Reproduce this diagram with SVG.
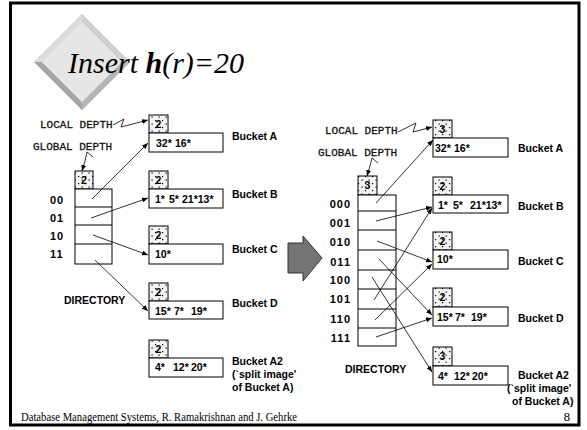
<svg xmlns="http://www.w3.org/2000/svg" width="587" height="430" viewBox="0 0 587 430">
<defs>
<pattern id="dots" width="7" height="7" patternUnits="userSpaceOnUse">
<rect width="7" height="7" fill="#f4f4f4"/>
<rect x="1" y="1" width="1.2" height="1.2" fill="#000"/>
<rect x="4.5" y="4.5" width="1.2" height="1.2" fill="#000"/>
</pattern>
<marker id="ah" viewBox="0 0 10 10" refX="10" refY="5" markerWidth="6" markerHeight="5" orient="auto" markerUnits="userSpaceOnUse" preserveAspectRatio="none">
<path d="M0,0 L10,5 L0,10 Z" fill="#000"/>
</marker>
<style>
.frame{fill:#fff;stroke:#000;stroke-width:3}
.ld{fill:url(#dots);stroke:#000;stroke-width:1}
.bk{fill:#fff;stroke:#000;stroke-width:1}
.ldt{font-family:"Liberation Sans",Arial,sans-serif;font-weight:bold;font-size:10.5px;text-anchor:middle}
.t{font-family:"Liberation Sans",Arial,sans-serif;font-weight:bold;font-size:10.5px}
.lab{font-family:"Liberation Sans",Arial,sans-serif;font-weight:bold;font-size:10.5px}
.num{font-family:"Liberation Sans",Arial,sans-serif;font-weight:bold;font-size:11px;letter-spacing:1px}
.mono{font-family:"Liberation Mono","Courier New",monospace;font-size:11px;fill:#111;stroke:#111;stroke-width:0.3}
.con{fill:none;stroke:#000;stroke-width:0.8;marker-end:url(#ah)}
.zz{fill:none;stroke:#000;stroke-width:0.8;marker-end:url(#ah)}
.foot{font-family:"Liberation Serif","Times New Roman",serif;font-size:12.5px}
</style>
</defs>
<rect class="frame" x="10.5" y="3" width="568.5" height="422"/>

<g id="title">
<polygon points="82,14 130,62 82,110 34,62" fill="#c8c8c8"/>
<polygon points="82,14 34,62 42,62 82,22" fill="#dcdcdc"/>
<polygon points="82,14 130,62 122,62 82,22" fill="#d0d0d0"/>
<polygon points="34,62 82,110 82,102 42,62" fill="#a6a6a6"/>
<polygon points="130,62 82,110 82,102 122,62" fill="#b4b4b4"/>
<polygon points="82,22 122,62 82,102 42,62" fill="#e6e6e6"/>
<text x="68" y="73" font-family="'Liberation Serif','Times New Roman',serif" font-style="italic" font-size="30">Insert <tspan font-weight="bold">h</tspan>(r)=20</text>
</g>

<g id="arrow-big">
<path d="M288,243 L303,243 L303,236 L322,258 L303,281 L303,273 L288,273 Z" fill="#747474" stroke="#333" stroke-width="1"/>
</g>

<!-- LEFT -->
<g id="left-labels">
<text class="mono" x="40" y="128">LOCAL DEPTH</text>
<text class="mono" x="33" y="150">GLOBAL DEPTH</text>
<text class="num" x="50" y="204">00</text>
<text class="num" x="50" y="222">01</text>
<text class="num" x="50" y="240">10</text>
<text class="num" x="50" y="258">11</text>
<text class="lab" x="64" y="304">DIRECTORY</text>
</g>

<g id="left-directory">
<rect class="ld" x="75" y="171" width="18" height="18"/>
<text class="ldt" x="84" y="184">2</text>
<rect class="bk" x="75" y="189" width="37" height="75"/>
<line x1="75" y1="207" x2="112" y2="207" stroke="#000" stroke-width="1"/>
<line x1="75" y1="225" x2="112" y2="225" stroke="#000" stroke-width="1"/>
<line x1="75" y1="244" x2="112" y2="244" stroke="#000" stroke-width="1"/>
</g>

<g id="left-bucket-a">
<rect class="ld" x="149" y="115" width="19" height="18"/>
<text class="ldt" x="158.5" y="128">2</text>
<rect class="bk" x="149" y="133" width="74" height="19"/>
<text class="t" y="147"><tspan x="156">32*</tspan><tspan x="175">16*</tspan></text>
<text class="lab" x="232" y="140">Bucket A</text>
</g>
<g id="left-bucket-b">
<rect class="ld" x="149" y="171" width="19" height="18"/>
<text class="ldt" x="158.5" y="184">2</text>
<rect class="bk" x="149" y="189" width="74" height="19"/>
<text class="t" y="203"><tspan x="155">1*</tspan><tspan x="169">5*</tspan><tspan x="182">21*13*</tspan></text>
<text class="lab" x="232" y="198">Bucket B</text>
</g>
<g id="left-bucket-c">
<rect class="ld" x="149" y="226" width="19" height="18"/>
<text class="ldt" x="158.5" y="239">2</text>
<rect class="bk" x="149" y="244" width="74" height="20"/>
<text class="t" x="155" y="258">10*</text>
<text class="lab" x="232" y="253">Bucket C</text>
</g>
<g id="left-bucket-d">
<rect class="ld" x="149" y="283" width="19" height="18"/>
<text class="ldt" x="158.5" y="296">2</text>
<rect class="bk" x="149" y="301" width="74" height="18"/>
<text class="t" y="315"><tspan x="155">15*</tspan><tspan x="174">7*</tspan><tspan x="191">19*</tspan></text>
<text class="lab" x="232" y="307">Bucket D</text>
</g>
<g id="left-bucket-a2">
<rect class="ld" x="149" y="340" width="19" height="18"/>
<text class="ldt" x="158.5" y="353">2</text>
<rect class="bk" x="149" y="358" width="74" height="19"/>
<text class="t" y="371"><tspan x="155">4*</tspan><tspan x="173">12*</tspan><tspan x="191">20*</tspan></text>
<text class="lab" x="232" y="365">Bucket A2</text>
<text class="lab" x="232" y="378">(`split image'</text>
<text class="lab" x="232" y="391">of Bucket A)</text>
</g>

<!-- RIGHT -->
<g id="right-labels">
<text class="mono" x="325" y="134">LOCAL DEPTH</text>
<text class="mono" x="318" y="156">GLOBAL DEPTH</text>
<g text-anchor="end">
<text class="num" x="351" y="208">000</text>
<text class="num" x="351" y="227">001</text>
<text class="num" x="351" y="246">010</text>
<text class="num" x="351" y="266">011</text>
<text class="num" x="351" y="284">100</text>
<text class="num" x="351" y="303">101</text>
<text class="num" x="351" y="323">110</text>
<text class="num" x="351" y="342">111</text>
</g>
<text class="lab" x="345" y="373">DIRECTORY</text>
</g>

<g id="right-directory">
<rect class="ld" x="358" y="176" width="19" height="19"/>
<text class="ldt" x="367.5" y="189">3</text>
<rect class="bk" x="358" y="195" width="38" height="151"/>
<g stroke="#000" stroke-width="1">
<line x1="358" y1="211" x2="396" y2="211"/>
<line x1="358" y1="230" x2="396" y2="230"/>
<line x1="358" y1="250" x2="396" y2="250"/>
<line x1="358" y1="270" x2="396" y2="270"/>
<line x1="358" y1="289" x2="396" y2="289"/>
<line x1="358" y1="309" x2="396" y2="309"/>
<line x1="358" y1="328" x2="396" y2="328"/>
</g>
</g>

<g id="right-bucket-a">
<rect class="ld" x="433" y="120" width="19" height="18"/>
<text class="ldt" x="442.5" y="133">3</text>
<rect class="bk" x="433" y="138" width="75" height="19"/>
<text class="t" y="152"><tspan x="435">32*</tspan><tspan x="454">16*</tspan></text>
<text class="lab" x="518" y="152">Bucket A</text>
</g>
<g id="right-bucket-b">
<rect class="ld" x="433" y="177" width="19" height="18"/>
<text class="ldt" x="442.5" y="190">2</text>
<rect class="bk" x="433" y="195" width="75" height="18"/>
<text class="t" y="209"><tspan x="438">1*</tspan><tspan x="453">5*</tspan><tspan x="470">21*13*</tspan></text>
<text class="lab" x="518" y="210">Bucket B</text>
</g>
<g id="right-bucket-c">
<rect class="ld" x="433" y="232" width="19" height="18"/>
<text class="ldt" x="442.5" y="245">2</text>
<rect class="bk" x="433" y="250" width="75" height="19"/>
<text class="t" x="437" y="263">10*</text>
<text class="lab" x="518" y="265">Bucket C</text>
</g>
<g id="right-bucket-d">
<rect class="ld" x="433" y="288" width="19" height="19"/>
<text class="ldt" x="442.5" y="301">2</text>
<rect class="bk" x="433" y="307" width="75" height="19"/>
<text class="t" y="321"><tspan x="437">15*</tspan><tspan x="455">7*</tspan><tspan x="471">19*</tspan></text>
<text class="lab" x="518" y="322">Bucket D</text>
</g>
<g id="right-bucket-a2">
<rect class="ld" x="433" y="347" width="19" height="19"/>
<text class="ldt" x="442.5" y="360">3</text>
<rect class="bk" x="433" y="366" width="75" height="19"/>
<text class="t" y="380"><tspan x="438">4*</tspan><tspan x="454">12*</tspan><tspan x="472">20*</tspan></text>
<text class="lab" x="518" y="379">Bucket A2</text>
<text class="lab" x="507" y="392">(`split image'</text>
<text class="lab" x="512" y="405">of Bucket A)</text>
</g>

<g id="connectors">
<polyline class="zz" points="113,125 124,119 121,127 148,120"/>
<polyline class="zz" points="93,157 87,152 85,161 82,171"/>
<line class="con" x1="92" y1="199" x2="148" y2="143"/>
<line class="con" x1="91" y1="218" x2="148" y2="198"/>
<line class="con" x1="93" y1="235" x2="148" y2="255"/>
<line class="con" x1="95" y1="260" x2="148" y2="311"/>

<polyline class="zz" points="398,132 416,123 413,132 432,127"/>
<polyline class="zz" points="378,163 372,158 370,166 367,176"/>
<line class="con" x1="376" y1="203" x2="433" y2="140"/>
<line class="con" x1="376" y1="221" x2="432" y2="207"/>
<line class="con" x1="377" y1="241" x2="432" y2="262"/>
<line class="con" x1="379" y1="259" x2="432" y2="315"/>
<line class="con" x1="372" y1="277" x2="432" y2="372"/>
<line class="con" x1="374" y1="300" x2="432" y2="208"/>
<line class="con" x1="375" y1="320" x2="432" y2="264"/>
<line class="con" x1="376" y1="337" x2="432" y2="318"/>
</g>

<g id="footer">
<text class="foot" x="21" y="421" textLength="276" lengthAdjust="spacingAndGlyphs">Database Management Systems, R. Ramakrishnan and J. Gehrke</text>
<text class="foot" x="570" y="421" text-anchor="end">8</text>
</g>
</svg>
